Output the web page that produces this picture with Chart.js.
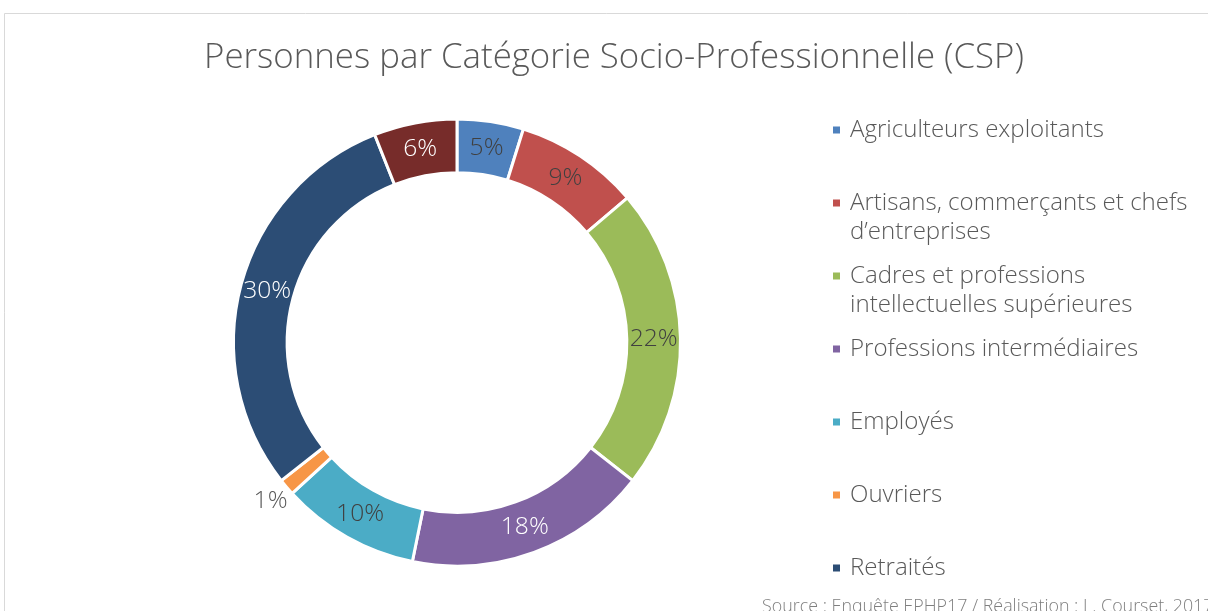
<!DOCTYPE html>
<html>
<head>
<meta charset="utf-8">
<script src="https://cdn.jsdelivr.net/npm/chart.js@4/dist/chart.umd.min.js"></script>
<style>
  html, body { margin: 0; padding: 0; background: #ffffff; }
  #wrap { position: relative; width: 1208px; height: 611px; }
  canvas { display: block; }
</style>
</head>
<body>
<div id="wrap"><canvas id="c" width="1208" height="611"></canvas></div>
<script>
const chartTitle = 'Personnes par Catégorie Socio-Professionnelle (CSP)';
const sourceText = 'Source : Enquête EPHP17 / Réalisation : L. Courset, 2017';
const categories = [
  ['Agriculteurs exploitants'],
  ['Artisans, commerçants et chefs', 'd\u2019entreprises'],
  ['Cadres et professions', 'intellectuelles supérieures'],
  ['Professions intermédiaires'],
  ['Employés'],
  ['Ouvriers'],
  ['Retraités'],
  ['Autres personnes sans activité professionnelle']
];
const shares = [4.8, 9.0, 21.8, 17.6, 10.0, 1.2, 29.6, 6.0];
const pctLabels = ['5%', '9%', '22%', '18%', '10%', '1%', '30%', '6%'];
const colors = ['#4F81BD', '#C0504D', '#9BBB59', '#8064A2', '#4BACC6', '#F79646', '#2C4D75', '#772C2A'];
const labelColors = ['#404040', '#404040', '#404040', '#ffffff', '#404040', '#595959', '#ffffff', '#ffffff'];
const legendShown = 7;

const FONT = '"Open Sans", Roboto, "Liberation Sans", sans-serif';

// scale a font so a text spans a given width (matches the reference's wide face)
function fitFont(ctx, text, weight, baseSize, targetWidth) {
  ctx.font = weight + ' ' + baseSize + 'px ' + FONT;
  const w = ctx.measureText(text).width;
  const size = baseSize * targetWidth / w;
  return weight + ' ' + size.toFixed(2) + 'px ' + FONT;
}

const framePlugin = {
  id: 'frame',
  beforeDraw(chart) {
    const ctx = chart.ctx;
    ctx.save();
    ctx.fillStyle = '#ffffff';
    ctx.fillRect(0, 0, chart.width, chart.height);
    ctx.strokeStyle = '#d9d9d9';
    ctx.lineWidth = 1;
    ctx.beginPath();
    ctx.moveTo(4.5, chart.height + 2);
    ctx.lineTo(4.5, 13.5);
    ctx.lineTo(chart.width + 2, 13.5);
    ctx.stroke();
    // title
    ctx.fillStyle = '#595959';
    ctx.font = fitFont(ctx, chartTitle, '300', 32, 820);
    ctx.textAlign = 'center';
    ctx.textBaseline = 'middle';
    ctx.fillText(chartTitle, 614, 58);
    // source
    ctx.font = fitFont(ctx, sourceText, '300', 16, 452);
    ctx.fillStyle = '#7f7f7f';
    ctx.textAlign = 'left';
    ctx.textBaseline = 'alphabetic';
    ctx.fillText(sourceText, 762, 612);
    ctx.restore();
  }
};

const labelPlugin = {
  id: 'sliceLabels',
  afterDatasetsDraw(chart) {
    const ctx = chart.ctx;
    const meta = chart.getDatasetMeta(0);
    ctx.save();
    ctx.font = fitFont(ctx, '22%', '300', 24, 48);
    ctx.textAlign = 'center';
    ctx.textBaseline = 'middle';
    meta.data.forEach((arc, i) => {
      const p = arc.getProps(['x', 'y', 'startAngle', 'endAngle', 'innerRadius', 'outerRadius'], true);
      const mid = (p.startAngle + p.endAngle) / 2;
      let r = (p.innerRadius + p.outerRadius) / 2;
      if (shares[i] < 2) r = p.outerRadius + 21;
      const x = p.x + Math.cos(mid) * r;
      const y = p.y + Math.sin(mid) * r;
      ctx.fillStyle = labelColors[i];
      ctx.fillText(pctLabels[i], x, y);
    });
    ctx.restore();
  }
};

const legendPlugin = {
  id: 'sideLegend',
  afterDraw(chart) {
    const ctx = chart.ctx;
    ctx.save();
    ctx.font = fitFont(ctx, categories[0][0], '300', 22, 254);
    ctx.textAlign = 'left';
    ctx.textBaseline = 'middle';
    for (let i = 0; i < legendShown; i++) {
      const y = 130 + i * 73;
      ctx.fillStyle = colors[i];
      ctx.fillRect(833, y - 3.5, 7, 7);
      ctx.fillStyle = '#595959';
      categories[i].forEach((line, k) => {
        ctx.fillText(line, 850, y + k * 29);
      });
    }
    ctx.restore();
  }
};

new Chart(document.getElementById('c'), {
  type: 'doughnut',
  data: {
    labels: categories.map(c => c.join(' ')),
    datasets: [{
      data: shares,
      backgroundColor: colors,
      borderColor: '#ffffff',
      borderWidth: 3,
      hoverOffset: 0
    }]
  },
  options: {
    responsive: false,
    animation: false,
    cutout: '76%',
    layout: { padding: { top: 117, bottom: 43, left: 232, right: 526 } },
    plugins: {
      legend: { display: false },
      title: { display: false },
      tooltip: { enabled: false }
    }
  },
  plugins: [framePlugin, labelPlugin, legendPlugin]
});
</script>
</body>
</html>
